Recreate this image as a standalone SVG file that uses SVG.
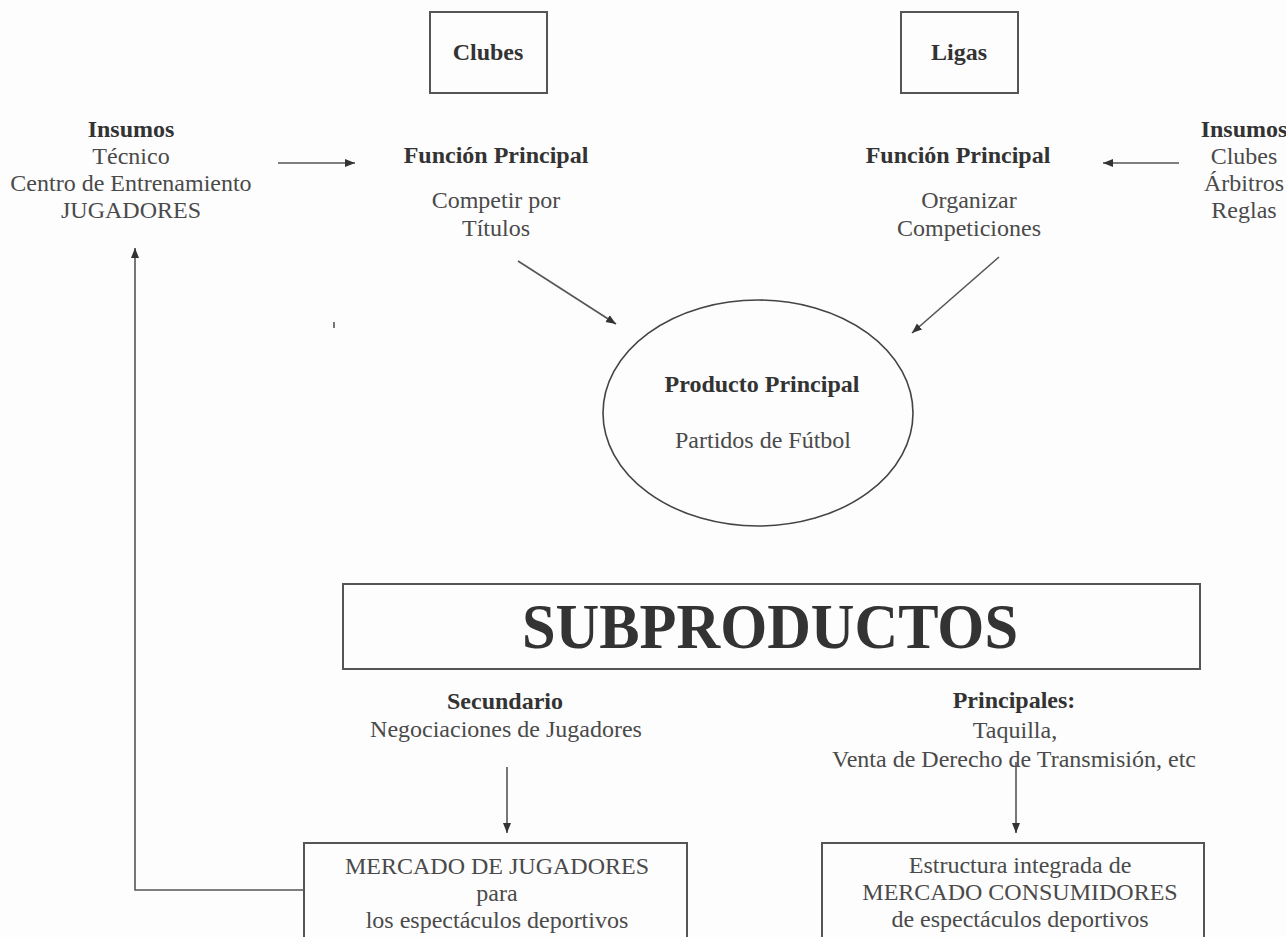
<svg xmlns="http://www.w3.org/2000/svg" width="1286" height="937" viewBox="0 0 1286 937">
<style>
text{font-family:"Liberation Serif","Times New Roman",serif;font-size:24px;text-anchor:middle;fill:#4a4a4a}
.b{font-weight:bold;fill:#333}
.box{fill:none;stroke:#555;stroke-width:2}
.ln{fill:none;stroke:#555;stroke-width:1.6}
</style>
<defs>
<marker id="ah" viewBox="0 0 10 10" refX="10" refY="5" markerWidth="10" markerHeight="10" markerUnits="userSpaceOnUse" orient="auto">
<path d="M0,1 L10,5 L0,9 z" fill="#333"/>
</marker>
</defs>
<rect width="1286" height="937" fill="#fdfdfd"/>
<g id="clubes"><rect class="box" x="430" y="12" width="117" height="81"/><text class="b" x="488" y="60">Clubes</text></g>
<g id="ligas"><rect class="box" x="901" y="12" width="117" height="81"/><text class="b" x="959" y="60">Ligas</text></g>
<g id="insumos-clubes"><text class="b" x="131" y="137">Insumos</text><text x="131" y="164">Técnico</text><text x="131" y="191">Centro de Entrenamiento</text><text x="131" y="218">JUGADORES</text></g>
<g id="funcion-clubes"><text class="b" x="496" y="163">Función Principal</text><text x="496" y="208">Competir por</text><text x="496" y="236">Títulos</text></g>
<g id="funcion-ligas"><text class="b" x="958" y="163">Función Principal</text><text x="969" y="208">Organizar</text><text x="969" y="236">Competiciones</text></g>
<g id="insumos-ligas"><text class="b" x="1244" y="137">Insumos</text><text x="1244" y="164">Clubes</text><text x="1244" y="191">Árbitros</text><text x="1244" y="218">Reglas</text></g>
<g id="producto"><ellipse cx="758" cy="413" rx="155" ry="113" fill="none" stroke="#444" stroke-width="1.6"/><text class="b" x="762" y="392">Producto Principal</text><text x="763" y="448">Partidos de Fútbol</text></g>
<g id="subproductos"><rect class="box" x="343" y="584" width="857" height="85"/><text class="b" x="770" y="648" style="font-size:64px" textLength="496" lengthAdjust="spacingAndGlyphs">SUBPRODUCTOS</text></g>
<g id="secundario"><text class="b" x="505" y="709">Secundario</text><text x="506" y="737">Negociaciones de Jugadores</text></g>
<g id="principales"><text class="b" x="1014" y="708">Principales:</text><text x="1015" y="738">Taquilla,</text><text x="1014" y="767">Venta de Derecho de Transmisión, etc</text></g>
<g id="mercado-jugadores"><rect class="box" x="304" y="843" width="383" height="110"/><text x="497" y="874">MERCADO DE JUGADORES</text><text x="497" y="901">para</text><text x="497" y="928">los espectáculos deportivos</text></g>
<g id="mercado-consumidores"><rect class="box" x="822" y="843" width="382" height="110"/><text x="1020" y="873">Estructura integrada de</text><text x="1020" y="900">MERCADO CONSUMIDORES</text><text x="1020" y="927">de espectáculos deportivos</text></g>
<g id="connectors">
<line class="ln" x1="278" y1="163" x2="355" y2="163" marker-end="url(#ah)"/>
<line class="ln" x1="1179" y1="163" x2="1103" y2="163" marker-end="url(#ah)"/>
<line class="ln" x1="518" y1="261" x2="616" y2="324" marker-end="url(#ah)"/>
<line class="ln" x1="999" y1="257" x2="912" y2="333" marker-end="url(#ah)"/>
<line class="ln" x1="507" y1="767" x2="507" y2="833" marker-end="url(#ah)"/>
<line class="ln" x1="1016" y1="762" x2="1016" y2="833" marker-end="url(#ah)"/>
<polyline class="ln" points="304,890 135,890 135,248" marker-end="url(#ah)"/>
<line class="ln" x1="334" y1="322" x2="334" y2="328"/>
</g>
</svg>
